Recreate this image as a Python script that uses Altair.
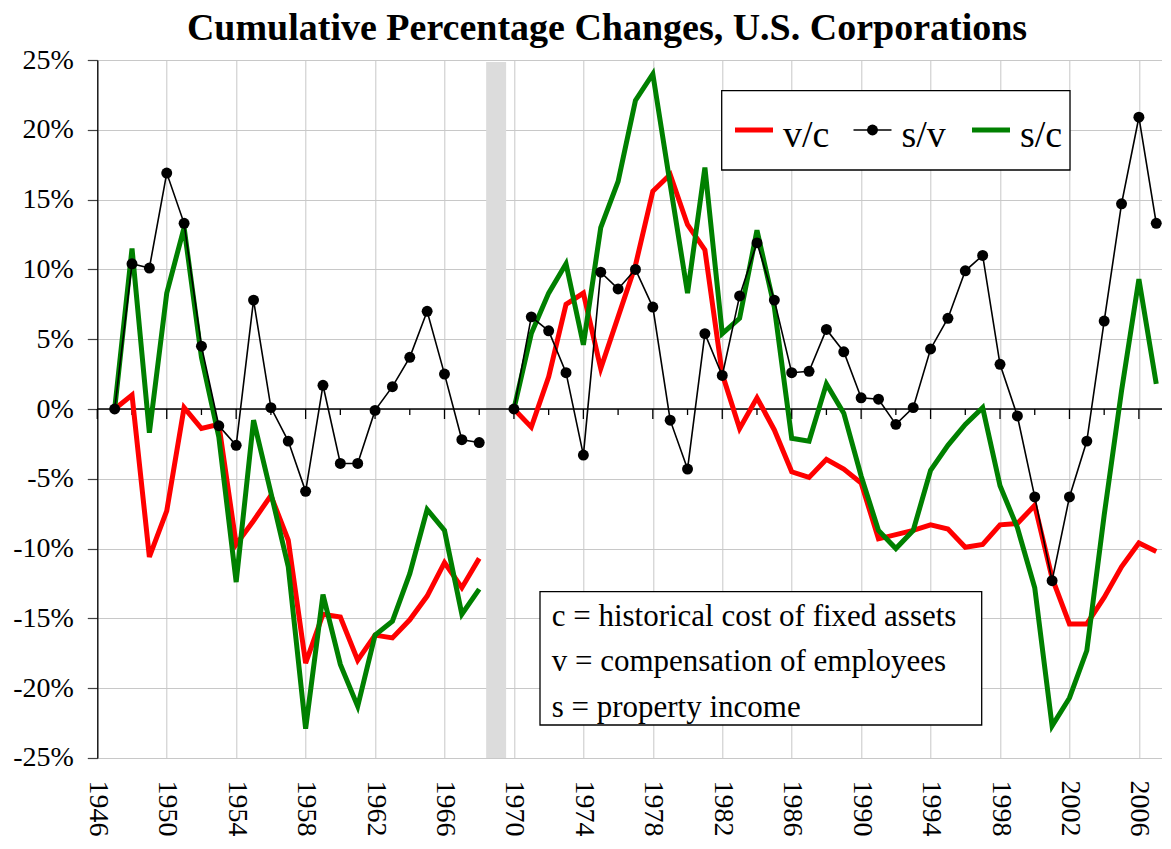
import altair as alt
import pandas as pd

# ---------------- data ----------------
years_a = list(range(1947, 1969))
years_b = list(range(1970, 2008))

vc_a = [0, 1.0, -10.6, -7.3, 0.1, -1.4, -1.1, -9.7, -8.0, -6.2, -9.4, -18.2, -14.7, -14.9,
        -18.0, -16.2, -16.4, -15.1, -13.4, -11.0, -12.8, -10.7]
sv_a = [0, 10.4, 10.1, 16.9, 13.3, 4.5, -1.2, -2.6, 7.8, 0.1, -2.3, -5.9, 1.7, -3.9,
        -3.9, -0.1, 1.6, 3.7, 7.0, 2.5, -2.2, -2.4]
sc_a = [0, 11.5, -1.7, 8.3, 13.0, 3.7, -2.0, -12.4, -0.8, -6.0, -11.3, -22.9, -13.3, -18.3,
        -21.3, -16.2, -15.2, -11.8, -7.2, -8.7, -14.7, -12.9]

vc_b = [0, -1.3, 2.3, 7.5, 8.3, 2.9, 6.6, 10.3, 15.6, 16.8, 13.2, 11.4, 2.5, -1.4, 0.8, -1.5,
        -4.5, -4.9, -3.6, -4.3, -5.3, -9.3, -9.0, -8.7, -8.3, -8.6, -9.9, -9.7, -8.3, -8.2,
        -6.9, -12.1, -15.4, -15.4, -13.5, -11.3, -9.6, -10.2]
sv_b = [0, 6.6, 5.6, 2.6, -3.3, 9.8, 8.6, 10.0, 7.3, -0.8, -4.3, 5.4, 2.4, 8.1, 11.9, 7.8,
        2.6, 2.7, 5.7, 4.1, 0.8, 0.7, -1.1, 0.1, 4.3, 6.5, 9.9, 11.0, 3.2, -0.5,
        -6.3, -12.3, -6.3, -2.3, 6.3, 14.7, 20.9, 13.3]
sc_b = [0, 5.4, 8.3, 10.4, 4.6, 13.0, 16.3, 22.1, 24.0, 16.1, 8.3, 17.3, 5.4, 6.5, 12.8, 7.3,
        -2.1, -2.3, 1.8, -0.3, -4.8, -8.7, -10.0, -8.7, -4.4, -2.6, -1.1, 0.1, -5.5, -8.5,
        -12.8, -22.7, -20.7, -17.3, -7.6, 1.3, 9.3, 1.8]

series_names = ["v/c", "s/v", "s/c"]
series_colors = ["#ff0000", "#000000", "#008000"]
gap_year = 1969
x_label_years = list(range(1946, 2007, 4))
minor_tick_years = list(range(1948, 2007, 4))
y_ticks = list(range(-25, 26, 5))
title_text = "Cumulative Percentage Changes, U.S. Corporations"
note_lines = ["c = historical cost of fixed assets",
              "v = compensation of employees",
              "s = property income"]

# ---------------- tables ----------------
rows = []
for seg, yrs, vc, sv, sc in [("a", years_a, vc_a, sv_a, sc_a), ("b", years_b, vc_b, sv_b, sc_b)]:
    for yr, a, b, c in zip(yrs, vc, sv, sc):
        rows.append({"year": yr, "segment": seg, "v/c": a, "s/v": b, "s/c": c})
wide = pd.DataFrame(rows)
long = wide.melt(id_vars=["year", "segment"], var_name="series", value_name="pct")

W, H = 1065, 698
FONT = "Liberation Serif"
xscale = alt.Scale(domain=[1946, 1946 + W / 17.36], nice=False, zero=False)
yscale = alt.Scale(domain=[-25, 25], nice=False, zero=False)

x_axis = alt.Axis(
    title=None, values=x_label_years, format="d", labelAngle=90, labelFont=FONT,
    labelFontSize=28, labelColor="black", labelPadding=22, ticks=False, domain=False,
    grid=True, gridColor="#c8c8c8", gridWidth=1, labelOverlap=False, labelFlush=False)
y_axis = alt.Axis(
    title=None, values=y_ticks, labelExpr="datum.value + '%'", labelFont=FONT,
    labelFontSize=28, labelColor="black", labelPadding=14, tickSize=10, tickColor="#444",
    tickWidth=1.2, domainColor="black", domainWidth=1.3, grid=True, gridColor="#c8c8c8",
    gridWidth=1, labelOverlap=False, labelFlush=False)


def X(field):
    return alt.X(field, scale=xscale, axis=x_axis)


def Y(field):
    return alt.Y(field, scale=yscale, axis=y_axis)


one = pd.DataFrame({"k": [0]})

# grey gap bar
gap_df = pd.DataFrame({"x0": [gap_year - 0.6], "x1": [gap_year + 0.55], "y0": [-25], "y1": [24.85]})
gap = alt.Chart(gap_df).mark_rect(color="#dcdcdc").encode(
    x=X("x0:Q"), x2="x1:Q", y=Y("y0:Q"), y2="y1:Q")

zero_df = pd.DataFrame({"z": [0]})
zero_line = alt.Chart(zero_df).mark_rule(color="black", strokeWidth=1.6).encode(y=Y("z:Q"))

major_df = pd.DataFrame({"year": x_label_years, "z": 0})
minor_df = pd.DataFrame({"year": minor_tick_years, "z": 0})
major_ticks = alt.Chart(major_df).mark_rule(color="black", strokeWidth=1.3, y2Offset=10).encode(
    x=X("year:Q"), y=Y("z:Q"), y2="z:Q")
minor_ticks = alt.Chart(minor_df).mark_rule(color="black", strokeWidth=1.3, y2Offset=6).encode(
    x=X("year:Q"), y=Y("z:Q"), y2="z:Q")


def series_line(name, color, width):
    return alt.Chart(long).transform_filter(alt.datum.series == name).mark_line(
        color=color, strokeWidth=width).encode(x=X("year:Q"), y=Y("pct:Q"), detail="segment:N")


red_line = series_line("v/c", series_colors[0], 5)
green_line = series_line("s/c", series_colors[2], 5)
black_line = series_line("s/v", series_colors[1], 1.6)
black_pts = alt.Chart(long).transform_filter(alt.datum.series == "s/v").mark_circle(
    color="black", size=120, opacity=1).encode(x=X("year:Q"), y=Y("pct:Q"))

# ---------------- legend (manual) ----------------
layers = []
layers.append(alt.Chart(one).mark_rect(fill="white", stroke="black", strokeWidth=1.3).encode(
    x=alt.value(624.4), x2=alt.value(972.7), y=alt.value(30.7), y2=alt.value(110)))
for i, (name, col) in enumerate(zip(series_names, series_colors)):
    sx = 637.7 + i * 118.5
    w = 5 if name != "s/v" else 1.6
    layers.append(alt.Chart(one).mark_rule(color=col, strokeWidth=w).encode(
        x=alt.value(sx), x2=alt.value(sx + 38), y=alt.value(70)))
    if name == "s/v":
        layers.append(alt.Chart(one).mark_circle(color="black", size=120, opacity=1).encode(
            x=alt.value(sx + 19), y=alt.value(70)))
    layers.append(alt.Chart(one).mark_text(align="left", baseline="alphabetic", font=FONT,
                                           fontSize=38, color="black").encode(
        x=alt.value(sx + 48), y=alt.value(86.7), text=alt.value(name)))

# ---------------- note box ----------------
layers.append(alt.Chart(one).mark_rect(fill="white", stroke="black", strokeWidth=1.3).encode(
    x=alt.value(442.7), x2=alt.value(884.4), y=alt.value(531.7), y2=alt.value(665)))
for i, line in enumerate(note_lines):
    layers.append(alt.Chart(one).mark_text(align="left", baseline="alphabetic", font=FONT,
                                           fontSize=31, color="black").encode(
        x=alt.value(454.4), y=alt.value(566 + i * 45.4), text=alt.value(line)))

title = alt.Chart(one).mark_text(align="center", baseline="middle", font=FONT, fontSize=38,
                                 fontWeight="bold", color="black").encode(
    x=alt.value(509.7), y=alt.value(-31), text=alt.value(title_text))

chart = alt.layer(gap, zero_line, major_ticks, minor_ticks, red_line, green_line, black_line,
                  black_pts, *layers, title).properties(
    width=W, height=H,
    padding={"left": 89.3, "top": 52, "right": 0, "bottom": 78},
    autosize=alt.AutoSizeParams(type="none"),
).configure(background="white").configure_view(stroke=None)

chart.save("out.html", embed_options={"renderer": "svg", "actions": False})
